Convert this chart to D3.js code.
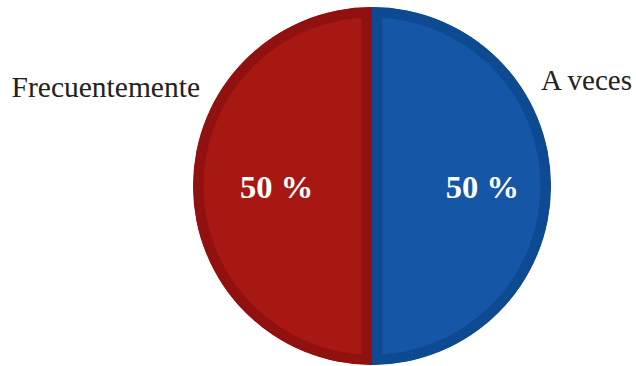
<!DOCTYPE html>
<html>
<head>
<meta charset="utf-8">
<script src="https://cdn.jsdelivr.net/npm/d3@7"></script>
<style>
  body { margin: 0; background: #fff; }
  text { font-family: "Liberation Serif", "Times New Roman", serif; }
</style>
</head>
<body>
<div id="chart"></div>
<script>
// data
const categories = ["A veces", "Frecuentemente"];
const values = [50, 50];
const fills = ["#1556a6", "#a81813"];
const borders = ["#0e4a91", "#911111"];

const width = 636, height = 366;
const cx = 372, cy = 186, radius = 179;

const svg = d3.select("#chart").append("svg")
  .attr("width", width)
  .attr("height", height);

const pie = d3.pie().sort(null).value(d => d.value);
const arcs = pie(categories.map((c, i) => ({ cat: c, value: values[i], i })));
const arc = d3.arc().innerRadius(0).outerRadius(radius);

const g = svg.append("g").attr("transform", `translate(${cx},${cy})`);

// clip each slice so the dark border is drawn inside only
const defs = svg.append("defs");
arcs.forEach((d, i) => {
  defs.append("clipPath").attr("id", "clip" + i)
    .append("path").attr("d", arc(d));
});

g.selectAll(".slice")
  .data(arcs)
  .join("path")
  .attr("class", "slice")
  .attr("d", arc)
  .attr("fill", d => fills[d.data.i])
  .attr("stroke", d => borders[d.data.i])
  .attr("stroke-width", 21)
  .attr("stroke-linejoin", "miter")
  .attr("clip-path", (d, i) => `url(#clip${i})`);

// percentage labels inside
const inner = d3.arc().innerRadius(radius * 0.575).outerRadius(radius * 0.575);
g.selectAll(".pct")
  .data(arcs)
  .join("text")
  .attr("class", "pct")
  .attr("x", d => inner.centroid(d)[0] + 7.5)
  .attr("y", d => inner.centroid(d)[1] + 12)
  .attr("text-anchor", "middle")
  .attr("fill", "#fff")
  .style("font-size", "32.5px")
  .style("font-weight", "bold")
  .text(d => d.data.value + " %");

// category labels outside
g.append("text")
  .attr("x", 169).attr("y", -96)
  .attr("text-anchor", "start")
  .attr("fill", "#222")
  .style("font-size", "29px")
  .text(categories[0]);

g.append("text")
  .attr("x", -172).attr("y", -89)
  .attr("text-anchor", "end")
  .attr("fill", "#222")
  .style("font-size", "29.5px")
  .text(categories[1]);
</script>
</body>
</html>
